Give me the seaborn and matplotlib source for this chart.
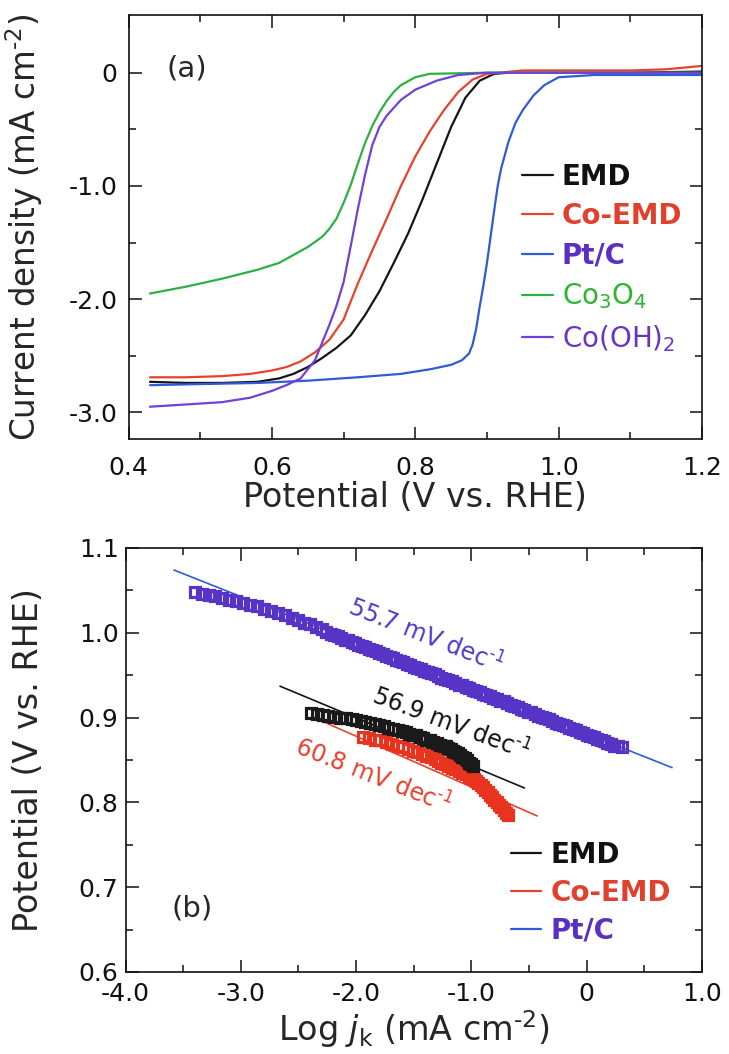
import matplotlib
matplotlib.use("Agg")
import matplotlib.pyplot as plt
import seaborn as sns
from matplotlib.lines import Line2D

# ---------------- (a) linear sweep voltammograms ----------------
emd_E = [0.43, 0.48, 0.53, 0.58, 0.61, 0.63, 0.65, 0.67, 0.69, 0.71, 0.73, 0.75,
         0.77, 0.79, 0.81, 0.83, 0.85, 0.87, 0.89, 0.91, 0.93, 1.00, 1.10, 1.20]
emd_j = [-2.73, -2.74, -2.74, -2.73, -2.70, -2.66, -2.60, -2.52, -2.43, -2.32, -2.14, -1.93,
         -1.68, -1.42, -1.12, -0.80, -0.48, -0.22, -0.07, -0.01, 0.00, 0.00, 0.00, 0.01]

coemd_E = [0.43, 0.48, 0.53, 0.57, 0.60, 0.62, 0.64, 0.66, 0.68, 0.70, 0.72, 0.74, 0.76,
           0.78, 0.80, 0.82, 0.84, 0.86, 0.88, 0.90, 0.95, 1.00, 1.10, 1.15, 1.20]
coemd_j = [-2.69, -2.69, -2.68, -2.66, -2.63, -2.60, -2.55, -2.47, -2.36, -2.18, -1.86, -1.57, -1.29,
           -1.00, -0.74, -0.52, -0.33, -0.17, -0.06, -0.01, 0.02, 0.02, 0.02, 0.03, 0.06]

ptc_E = [0.43, 0.50, 0.58, 0.65, 0.72, 0.78, 0.82, 0.85, 0.865, 0.875, 0.880, 0.885, 0.890, 0.895,
         0.900, 0.905, 0.910, 0.915, 0.920, 0.930, 0.940, 0.950, 0.965, 0.980, 1.00, 1.05, 1.10, 1.20]
ptc_j = [-2.76, -2.75, -2.74, -2.72, -2.69, -2.66, -2.62, -2.58, -2.54, -2.48, -2.40, -2.26, -2.06, -1.88,
         -1.68, -1.45, -1.22, -1.00, -0.84, -0.61, -0.44, -0.33, -0.20, -0.11, -0.04, -0.02, -0.02, -0.02]

co3o4_E = [0.43, 0.48, 0.53, 0.58, 0.61, 0.63, 0.65, 0.67, 0.68, 0.69, 0.70, 0.71, 0.72,
           0.73, 0.74, 0.75, 0.76, 0.77, 0.78, 0.80, 0.82, 0.90, 1.00, 1.10, 1.20]
co3o4_j = [-1.95, -1.89, -1.82, -1.74, -1.68, -1.61, -1.54, -1.45, -1.38, -1.29, -1.15, -0.99, -0.80,
           -0.62, -0.47, -0.35, -0.25, -0.17, -0.11, -0.04, -0.01, 0.00, 0.00, 0.00, 0.00]

cooh_E = [0.43, 0.48, 0.53, 0.57, 0.60, 0.62, 0.64, 0.66, 0.68, 0.69, 0.70, 0.71, 0.72,
          0.73, 0.74, 0.75, 0.76, 0.78, 0.80, 0.83, 0.86, 0.90, 1.00, 1.10, 1.20]
cooh_j = [-2.95, -2.93, -2.91, -2.87, -2.81, -2.76, -2.70, -2.54, -2.23, -2.06, -1.85, -1.53, -1.20,
          -0.90, -0.64, -0.48, -0.38, -0.24, -0.15, -0.07, -0.02, 0.00, 0.00, 0.00, 0.00]

lsv_labels = ["EMD", "Co-EMD", "Pt/C", "Co$_3$O$_4$", "Co(OH)$_2$"]

a_xticks = [0.4, 0.6, 0.8, 1.0, 1.2]
a_xticklabels = ["0.4", "0.6", "0.8", "1.0", "1.2"]
a_yticks = [0.0, -1.0, -2.0, -3.0]
a_yticklabels = ["0", "-1.0", "-2.0", "-3.0"]

# ---------------- (b) Tafel plots ----------------
tafel_ptc_logj = [-3.40, -3.34, -3.28, -3.22, -3.16, -3.10, -3.04, -2.98, -2.92, -2.86,
                  -2.80, -2.74, -2.68, -2.62, -2.56, -2.50, -2.45, -2.40, -2.35, -2.30,
                  -2.26,
                  -2.22, -2.19, -2.16, -2.13, -2.10, -2.07, -2.04, -2.01, -1.98, -1.95,
                  -1.92, -1.89, -1.86, -1.83, -1.80, -1.77, -1.74, -1.71, -1.68, -1.65,
                  -1.62, -1.59, -1.56, -1.53, -1.50, -1.47, -1.44, -1.41, -1.38, -1.35,
                  -1.32, -1.29, -1.26, -1.23, -1.20, -1.17, -1.14, -1.11, -1.08, -1.05,
                  -1.02, -0.99, -0.96, -0.93, -0.90, -0.87, -0.84, -0.81, -0.78, -0.75,
                  -0.72, -0.69, -0.66, -0.63, -0.60, -0.57, -0.54, -0.51, -0.48, -0.45,
                  -0.42, -0.39, -0.36, -0.33, -0.30, -0.27, -0.24, -0.21, -0.18, -0.15,
                  -0.12, -0.09, -0.06, -0.03, 0.00, 0.03, 0.06, 0.09, 0.12, 0.15,
                  0.18, 0.21, 0.24, 0.27, 0.31]
tafel_ptc_E = [1.048, 1.046, 1.045, 1.043, 1.041, 1.039, 1.037, 1.035, 1.033, 1.031,
               1.028, 1.026, 1.023, 1.021, 1.018, 1.015, 1.012, 1.010, 1.007, 1.004,
               1.001,
               0.999, 0.997, 0.996, 0.994, 0.992, 0.991, 0.989, 0.988, 0.986, 0.984,
               0.983, 0.981, 0.980, 0.978, 0.976, 0.975, 0.973, 0.971, 0.970, 0.968,
               0.967, 0.965, 0.963, 0.962, 0.960, 0.959, 0.957, 0.955, 0.954, 0.952,
               0.951, 0.949, 0.947, 0.946, 0.944, 0.943, 0.941, 0.939, 0.938, 0.936,
               0.935, 0.933, 0.931, 0.930, 0.928, 0.927, 0.925, 0.923, 0.922, 0.920,
               0.919, 0.917, 0.915, 0.914, 0.912, 0.910, 0.909, 0.907, 0.906, 0.904,
               0.902, 0.901, 0.899, 0.898, 0.896, 0.894, 0.893, 0.891, 0.890, 0.888,
               0.886, 0.885, 0.883, 0.882, 0.880, 0.878, 0.877, 0.875, 0.874, 0.872,
               0.870, 0.869, 0.867, 0.866, 0.865]

tafel_emd_logj = [-2.39, -2.34, -2.29, -2.24, -2.19, -2.14, -2.09, -2.04, -2.00, -1.96,
                  -1.92, -1.88, -1.84, -1.80, -1.76, -1.72, -1.68, -1.64, -1.60, -1.57,
                  -1.54, -1.51, -1.48, -1.45, -1.42, -1.39, -1.36, -1.33, -1.30, -1.27,
                  -1.24, -1.22, -1.20, -1.18, -1.16, -1.14, -1.12, -1.10, -1.08, -1.06,
                  -1.04, -1.02, -1.00, -0.99]
tafel_emd_E = [0.905, 0.904, 0.903, 0.902, 0.901, 0.900, 0.899, 0.898, 0.897, 0.896,
               0.895, 0.894, 0.892, 0.891, 0.890, 0.888, 0.887, 0.885, 0.884, 0.883,
               0.881, 0.880, 0.879, 0.877, 0.876, 0.874, 0.873, 0.871, 0.870, 0.868,
               0.867, 0.866, 0.864, 0.863, 0.861, 0.860, 0.858, 0.856, 0.854, 0.852,
               0.850, 0.847, 0.845, 0.843]

tafel_coemd_logj = [-1.94, -1.89, -1.84, -1.79, -1.74, -1.69, -1.64, -1.59, -1.55, -1.51,
                    -1.47, -1.43, -1.39, -1.35, -1.32, -1.29, -1.26, -1.23, -1.20, -1.17,
                    -1.14, -1.11, -1.08, -1.05, -1.02, -1.00, -0.98, -0.96, -0.94, -0.92,
                    -0.90, -0.88, -0.86, -0.84, -0.82, -0.80, -0.78, -0.76, -0.74, -0.72,
                    -0.70, -0.68]
tafel_coemd_E = [0.877, 0.876, 0.874, 0.873, 0.871, 0.869, 0.867, 0.865, 0.863, 0.861,
                 0.859, 0.857, 0.855, 0.853, 0.851, 0.849, 0.847, 0.845, 0.843, 0.841,
                 0.839, 0.837, 0.835, 0.833, 0.831, 0.829, 0.827, 0.825, 0.823, 0.821,
                 0.818, 0.815, 0.812, 0.809, 0.806, 0.803, 0.800, 0.797, 0.794, 0.791,
                 0.788, 0.785]

# linear Tafel fits (end points)
fit_ptc_logj, fit_ptc_E = [-3.58, 0.74], [1.074, 0.841]
fit_emd_logj, fit_emd_E = [-2.66, -0.54], [0.937, 0.817]
fit_coemd_logj, fit_coemd_E = [-2.30, -0.43], [0.896, 0.784]

tafel_labels = ["EMD", "Co-EMD", "Pt/C"]
slope_texts = ["55.7 mV dec$^{\u20101}$", "56.9 mV dec$^{\u20101}$", "60.8 mV dec$^{\u20101}$"]

b_xticks = [-4.0, -3.0, -2.0, -1.0, 0.0, 1.0]
b_xticklabels = ["-4.0", "-3.0", "-2.0", "-1.0", "0", "1.0"]
b_yticks = [0.6, 0.7, 0.8, 0.9, 1.0, 1.1]
b_yticklabels = ["0.6", "0.7", "0.8", "0.9", "1.0", "1.1"]

# ---------------- style ----------------
C_EMD = "#151515"
C_COEMD = "#e5432d"
C_PTC = "#2f5bd6"
C_CO3O4 = "#2cb045"
C_COOH = "#7040d8"
C_PTC_TXT = "#5a30c4"

sns.set_theme(style="ticks")
plt.rcParams.update({
    "font.family": ["DejaVu Sans"],
    "mathtext.fontset": "dejavusans",
    "axes.unicode_minus": False,
    "axes.linewidth": 1.2,
    "axes.edgecolor": "#111111",
    "xtick.direction": "in", "ytick.direction": "in",
    "xtick.top": True, "ytick.right": True,
    "xtick.major.size": 9, "ytick.major.size": 9,
    "xtick.minor.size": 4.8, "ytick.minor.size": 4.8,
    "xtick.major.width": 1.1, "ytick.major.width": 1.1,
    "xtick.minor.width": 1.1, "ytick.minor.width": 1.1,
    "xtick.color": "#111111", "ytick.color": "#111111",
})

fig = plt.figure(figsize=(7.29, 10.54), dpi=100)
ax1 = fig.add_axes([0.1763, 0.5835, 0.7867, 0.4023])
ax2 = fig.add_axes([0.1722, 0.0778, 0.7908, 0.4023])

# ---- panel (a)
for E, j, c in [(emd_E, emd_j, C_EMD), (coemd_E, coemd_j, C_COEMD), (ptc_E, ptc_j, C_PTC),
                (co3o4_E, co3o4_j, C_CO3O4), (cooh_E, cooh_j, C_COOH)]:
    sns.lineplot(x=E, y=j, color=c, lw=1.6, sort=False, estimator=None, ax=ax1)

ax1.set_xlim(0.4, 1.2)
ax1.set_ylim(-3.235, 0.51)
ax1.set_xticks(a_xticks)
ax1.set_xticklabels(a_xticklabels)
ax1.set_xticks([0.5, 0.7, 0.9, 1.1], minor=True)
ax1.set_yticks(a_yticks)
ax1.set_yticklabels(a_yticklabels)
ax1.set_yticks([-0.5, -1.5, -2.5], minor=True)
ax1.tick_params(axis="both", which="both", labelsize=18)
ax1.tick_params(axis="x", which="major", pad=12)
ax1.tick_params(axis="y", which="major", pad=8)
ax1.set_xlabel("Potential (V vs. RHE)", fontsize=24)
ax1.set_ylabel("Current density (mA cm$^{\u20102}$)", fontsize=23.5)
ax1.xaxis.set_label_coords(0.5, -0.10)
ax1.yaxis.set_label_coords(-0.145, 0.5)
ax1.text(0.481, 0.04, "(a)", fontsize=21, ha="center", va="center")

h1 = [Line2D([], [], color=c, lw=1.6) for c in [C_EMD, C_COEMD, C_PTC, C_CO3O4, C_COOH]]
leg1 = ax1.legend(h1, lsv_labels, loc="upper left", bbox_to_anchor=(0.686, 0.652),
                  frameon=False, fontsize=20, handlelength=1.1, handletextpad=0.33,
                  labelspacing=0.42, borderpad=0, borderaxespad=0)
for t, c, w in zip(leg1.get_texts(),
                   ["#111111", "#e0402c", C_PTC_TXT, "#2db52d", "#6a34c0"],
                   ["bold", "bold", "bold", "normal", "normal"]):
    t.set_color(c)
    t.set_fontweight(w)

# ---- panel (b)
sns.lineplot(x=fit_ptc_logj, y=fit_ptc_E, color=C_PTC, lw=1.2, ax=ax2)
sns.lineplot(x=fit_emd_logj, y=fit_emd_E, color=C_EMD, lw=1.2, ax=ax2)
sns.lineplot(x=fit_coemd_logj, y=fit_coemd_E, color=C_COEMD, lw=1.2, ax=ax2)

for lx, ly, c in [(tafel_coemd_logj, tafel_coemd_E, "#e8341f"),
                  (tafel_emd_logj, tafel_emd_E, "#1a1a1a"),
                  (tafel_ptc_logj, tafel_ptc_E, "#5733c6")]:
    sns.lineplot(x=lx, y=ly, sort=False, estimator=None, ax=ax2, linestyle="",
                 marker="s", markersize=6.6, markerfacecolor="none",
                 markeredgecolor=c, markeredgewidth=2.3, color=c)

ax2.text(-1.40, 0.996, slope_texts[0], fontsize=17, color="#4a3cc6",
         rotation=-21.5, ha="center", va="center", rotation_mode="anchor")
ax2.text(-1.18, 0.893, slope_texts[1], fontsize=17, color="#111111",
         rotation=-20.5, ha="center", va="center", rotation_mode="anchor")
ax2.text(-1.85, 0.831, slope_texts[2], fontsize=17, color="#e8412c",
         rotation=-21.5, ha="center", va="center", rotation_mode="anchor")
ax2.text(-3.42, 0.675, "(b)", fontsize=21, ha="center", va="center")

ax2.set_xlim(-4.0, 1.0)
ax2.set_ylim(0.6, 1.1)
ax2.set_xticks(b_xticks)
ax2.set_xticklabels(b_xticklabels)
ax2.set_xticks([-3.5, -2.5, -1.5, -0.5, 0.5], minor=True)
ax2.set_yticks(b_yticks)
ax2.set_yticklabels(b_yticklabels)
ax2.set_yticks([0.65, 0.75, 0.85, 0.95, 1.05], minor=True)
ax2.tick_params(axis="both", which="both", labelsize=18)
ax2.tick_params(axis="x", which="major", pad=7)
ax2.tick_params(axis="y", which="major", pad=5)
ax2.set_xlabel("Log $j_{\\mathrm{k}}$ (mA cm$^{\u20102}$)", fontsize=24)
ax2.set_ylabel("Potential (V vs. RHE)", fontsize=24)
ax2.xaxis.set_label_coords(0.5, -0.085)
ax2.yaxis.set_label_coords(-0.14, 0.5)

h2 = [Line2D([], [], color=c, lw=1.6) for c in [C_EMD, C_COEMD, C_PTC]]
leg2 = ax2.legend(h2, tafel_labels, loc="upper left", bbox_to_anchor=(0.668, 0.31),
                  frameon=False, fontsize=20, handlelength=1.1, handletextpad=0.33,
                  labelspacing=0.36, borderpad=0, borderaxespad=0)
for t, c in zip(leg2.get_texts(), ["#111111", "#e0402c", C_PTC_TXT]):
    t.set_color(c)
    t.set_fontweight("bold")

fig.savefig("out.png", dpi=100, facecolor="white")
